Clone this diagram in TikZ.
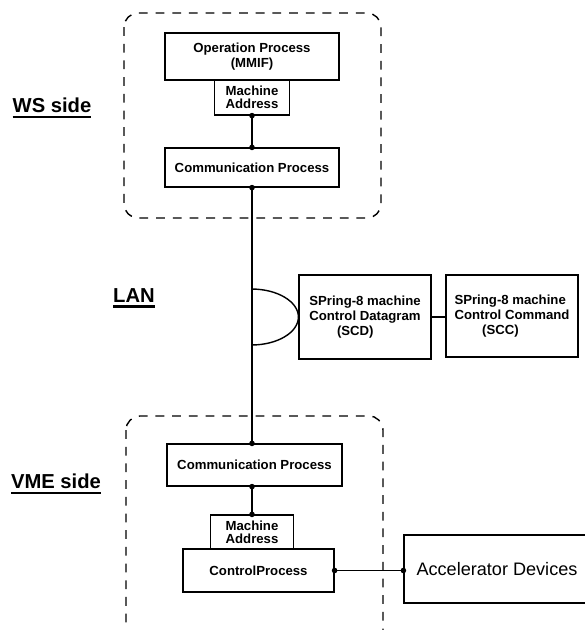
\documentclass[tikz,border=0pt]{standalone}
\usepackage{fontspec}
\setmainfont{Liberation Sans}
\usetikzlibrary{arrows.meta}

\newcommand{\ulabel}[1]{\setbox0\hbox{#1}\rlap{\raisebox{-3pt}{\rule{\wd0}{1.2pt}}}\box0}

\begin{document}
\begin{tikzpicture}[
  x=0.02cm, y=-0.02cm,
  pbox/.style  = {draw, line width=0.7pt, align=center, inner sep=1pt,
                  font=\fontsize{7.5}{8.5}\selectfont\bfseries},
  abox/.style  = {pbox, font=\fontsize{7.5}{7.4}\selectfont\bfseries},
  side/.style  = {draw, dashed, line width=0.8pt, dash pattern=on 5pt off 4.5pt,
                  rounded corners=8pt},
  link/.style  = {line width=0.8pt},
  slbl/.style  = {font=\fontsize{11.5}{13}\selectfont\bfseries},
  dot/.style   = {circle, fill, inner sep=0pt, minimum size=3.2pt},
]
\useasboundingbox (0,0) rectangle (585,630);

% WS side
\draw[side] (124,13) rectangle (381,218);
\node[pbox, minimum width=3.48cm, minimum height=0.94cm] (op) at (252,56.5)
  {Operation Process\\(MMIF)};
\node[abox, minimum width=1.5cm, minimum height=0.7cm] (madrws) at (252,97.5)
  {Machine\\Address};
\node[pbox, minimum width=3.48cm, minimum height=0.78cm] (commws) at (252,167.5)
  {Communication Process};

% VME side
\draw[side] (126,416) rectangle (383,645);
\node[pbox, minimum width=3.5cm, minimum height=0.84cm] (commvme) at (254.5,465)
  {Communication Process};
\node[abox, minimum width=1.66cm, minimum height=0.68cm] (madrvme) at (252,532)
  {Machine\\Address};
\node[pbox, minimum width=3.02cm, minimum height=0.86cm] (ctrl) at (258.5,570.5)
  {ControlProcess};
\node[draw, line width=0.7pt, font=\fontsize{10.3}{12}\selectfont,
      minimum width=3.72cm, minimum height=1.36cm] (acc) at (497,569)
  {Accelerator Devices};

% LAN
\node[pbox, align=left, minimum width=2.64cm, minimum height=1.68cm] (scd) at (365,317)
  {SPring-8 machine\\Control Datagram\\\hspace{2.1em}(SCD)};
\node[pbox, align=left, minimum width=2.64cm, minimum height=1.64cm] (scc) at (512,316)
  {SPring-8 machine\\Control Command\\\hspace{2.1em}(SCC)};

\node[slbl] (ws)  at (52,108)  {\ulabel{WS side}};
\node[slbl] (lan) at (134,298) {\ulabel{LAN}};
\node[slbl] (vme) at (56,484)  {\ulabel{VME side}};

\draw[link] (madrws.south) -- (commws.north);
\draw[link] (commws.south) -- (commws.south |- commvme.north);
\draw[link] (commvme.south -| madrvme.north) -- (madrvme.north);
\draw[link] (ctrl.east) -- (ctrl.east -| acc.west);
\draw[link] (scd.east) -- (scd.east -| scc.west);
\draw[link] (scd.west) arc[start angle=0, end angle=90, x radius=0.94cm, y radius=0.56cm];
\draw[link] (scd.west) arc[start angle=0, end angle=-90, x radius=0.94cm, y radius=0.56cm];

\node[dot] at (madrws.south) {};
\node[dot] at (commws.north) {};
\node[dot] at (commws.south) {};
\node[dot] at (commvme.north -| commws.south) {};
\node[dot] at (commvme.south -| madrvme.north) {};
\node[dot] at (madrvme.north) {};
\node[dot] at (ctrl.east) {};
\node[dot] at (ctrl.east -| acc.west) {};

\end{tikzpicture}
\end{document}
